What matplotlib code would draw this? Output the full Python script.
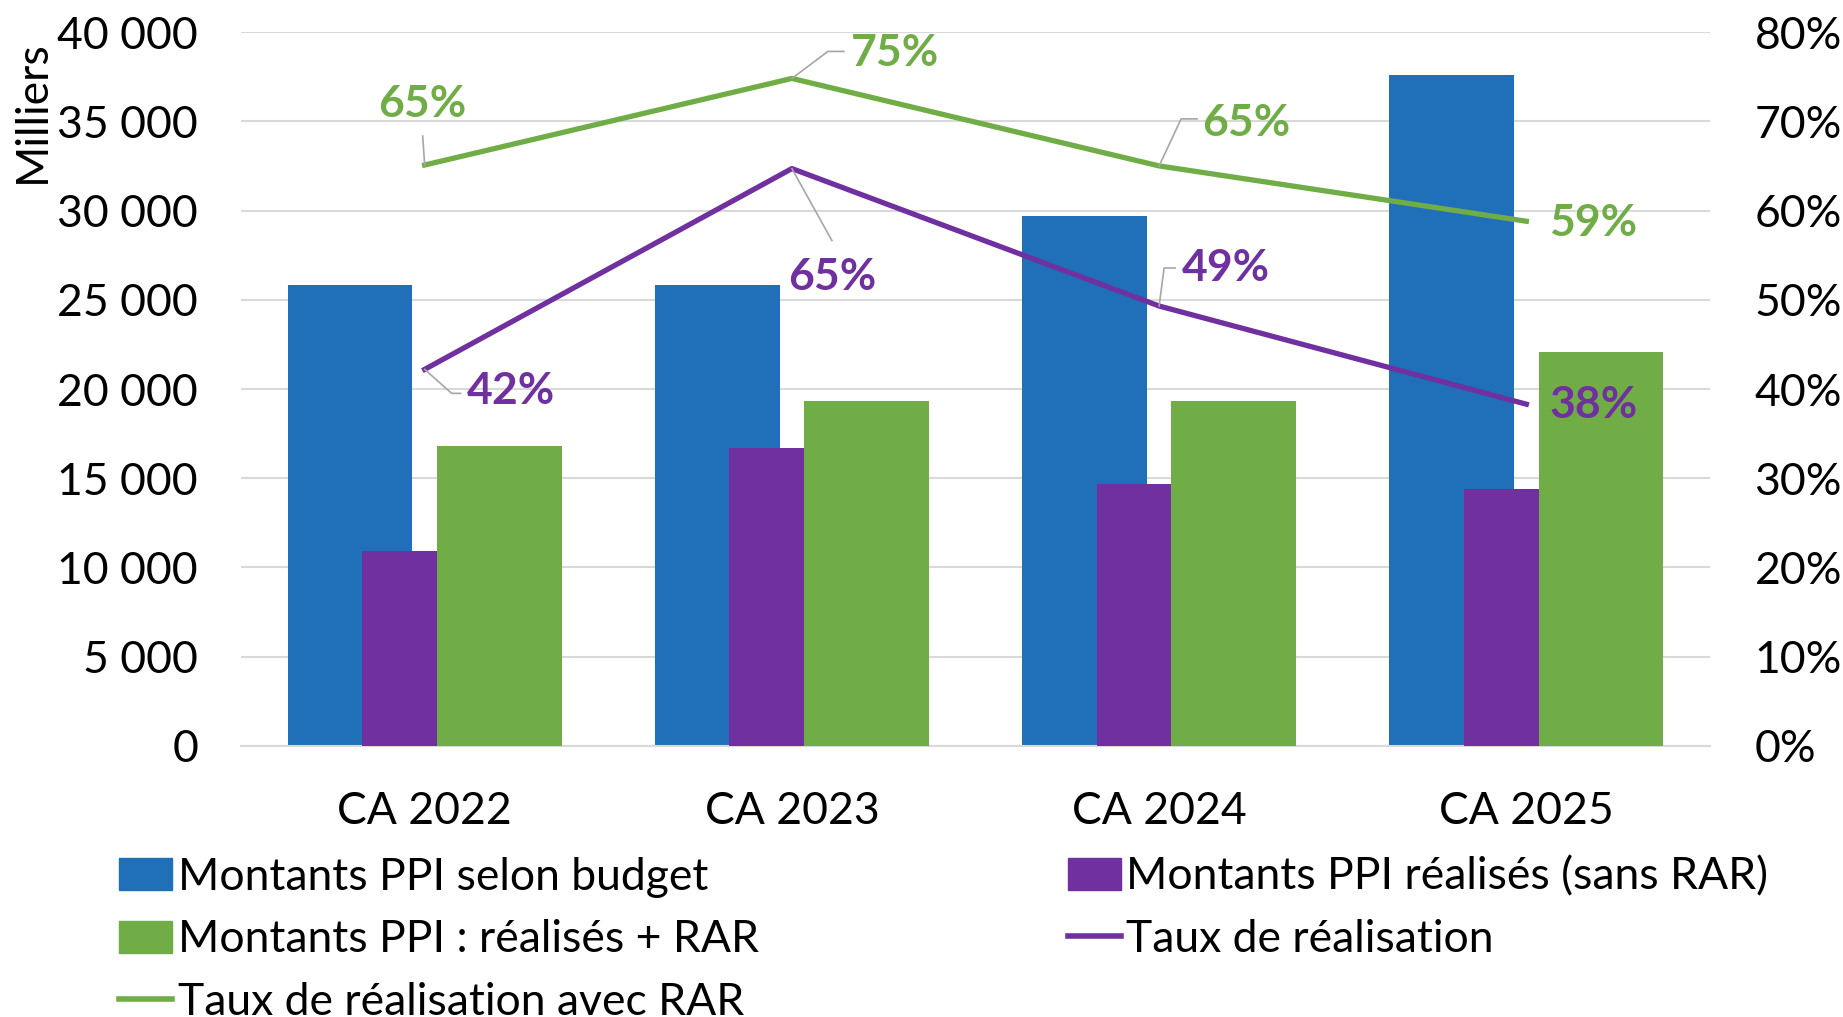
import matplotlib
matplotlib.use("Agg")
import matplotlib.pyplot as plt
from matplotlib.lines import Line2D
from matplotlib.patches import Patch
from matplotlib.transforms import IdentityTransform
import numpy as np

# data (thousands of euros)
categories = ["CA 2022", "CA 2023", "CA 2024", "CA 2025"]
budget = [25800, 25800, 29700, 37600]
realises = [10900, 16700, 14700, 14400]
realises_rar = [16800, 19300, 19300, 22100]
taux = [0.422, 0.647, 0.493, 0.383]
taux_rar = [0.651, 0.748, 0.650, 0.588]

left_ticks = np.arange(0, 40001, 5000)
right_ticks = np.arange(0, 0.81, 0.1)

BLUE = "#1f70b8"
PURPLE = "#7030a0"
GREEN = "#70ad47"
GRID = "#d9d9d9"
LEADER = "#a6a6a6"
FS = 32

plt.rcParams['font.family'] = ['Lato', 'DejaVu Sans']

fig = plt.figure(figsize=(18.43, 10.17), dpi=100)
ax = fig.add_axes([0.1308, 0.2665, 0.797, 0.702])
ax2 = ax.twinx()

x = np.arange(len(categories))
w = 0.34
off = 0.2035
ax.bar(x - off, budget, w, color=BLUE, zorder=2)
ax.bar(x, realises, w, color=PURPLE, zorder=3)
ax.bar(x + off, realises_rar, w, color=GREEN, zorder=4)

ax.set_xlim(-0.5, 3.5)
ax.set_ylim(0, 40000)
ax.set_yticks(left_ticks)
ax.set_yticklabels([f"{v:,}".replace(",", " ") for v in left_ticks])
ax.set_xticks(x)
ax.set_xticklabels(categories)
ax.tick_params(axis='y', length=0, labelsize=FS, pad=31)
ax.tick_params(axis='x', length=0, labelsize=FS, pad=32.5)
ax.grid(axis='y', color=GRID, lw=1.5)
ax.set_axisbelow(True)
for s in ['top', 'left', 'right']:
    ax.spines[s].set_visible(False)
ax.spines['bottom'].set_color(GRID)
ax.spines['bottom'].set_linewidth(1.5)

ax2.plot(x, taux, color=PURPLE, lw=3.8, zorder=5)
ax2.plot(x, taux_rar, color=GREEN, lw=3.8, zorder=5)
ax2.set_ylim(0, 0.8)
ax2.set_yticks(right_ticks)
ax2.set_yticklabels([f"{round(v * 100)}%" for v in right_ticks])
ax2.tick_params(axis='y', length=0, labelsize=FS, pad=32)
for s in ax2.spines.values():
    s.set_visible(False)

fig.text(0.0175, 0.89, "Milliers", rotation=90, ha='center', va='center', fontsize=FS)

# data labels: offsets in pixels from the point (y downwards), leader vertices
purple_lab = [(86, 22), (40, 108), (67, -38), (67, 1)]
purple_lead = [[(0, 0), (27, 24), (36, 24)], [(0, 0), (40, 72)],
               [(0, 0), (5, -38), (16, -38)], None]
green_lab = [(-2, -61), (103, -25), (87, -43), (67, 2)]
green_lead = [[(0, 0), (-2, -29)], [(0, 0), (36, -27), (52, -27)],
              [(0, 0), (22, -47), (38, -47)], None]


def add_labels(vals, labs, leads, color):
    for i, v in enumerate(vals):
        dx, dy = labs[i]
        ax2.annotate(f"{round(v * 100)}%", xy=(i, v), xytext=(dx, -dy),
                     textcoords='offset pixels', ha='center', va='center',
                     fontsize=FS, fontweight='bold', color=color, zorder=6)
        if leads[i] is None:
            continue
        px, py = ax2.transData.transform((i, v))
        xs = [px + a for a, b in leads[i]]
        ys = [py - b for a, b in leads[i]]
        fig.add_artist(Line2D(xs, ys, transform=IdentityTransform(), color=LEADER, lw=1.2, zorder=6))


add_labels(taux, purple_lab, purple_lead, PURPLE)
add_labels(taux_rar, green_lab, green_lead, GREEN)

handles = [Patch(color=BLUE), Patch(color=GREEN), Line2D([], [], color=GREEN, lw=4),
           Patch(color=PURPLE), Line2D([], [], color=PURPLE, lw=4)]
labels = ["Montants PPI selon budget", "Montants PPI : réalisés + RAR", "Taux de réalisation avec RAR",
          "Montants PPI réalisés (sans RAR)", "Taux de réalisation"]
fig.legend(handles, labels, ncol=2, loc='upper left', bbox_to_anchor=(0.0646, 0.158),
           frameon=False, fontsize=FS, handlelength=1.2, handleheight=0.75, handletextpad=0.12,
           columnspacing=6.95, labelspacing=0.49, borderpad=0, borderaxespad=0)

fig.savefig("out.png", dpi=100)
